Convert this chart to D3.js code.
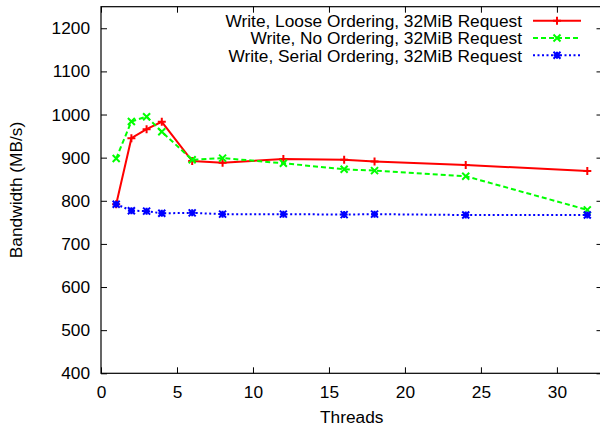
<!DOCTYPE html>
<html>
<head>
<meta charset="utf-8">
<script src="https://cdn.jsdelivr.net/npm/d3@7"></script>
<style>
  body { margin: 0; background: #fff; }
  svg text { font-family: "Liberation Sans", Arial, sans-serif; fill: #000; }
</style>
</head>
<body>
<div id="chart"></div>
<script>
// chart data
const threads = [1, 2, 3, 4, 6, 8, 12, 16, 18, 24, 32];
const looseVals = [792, 945, 966, 983, 892, 888, 897, 895, 891, 883, 869];
const noneVals = [898, 984, 995, 960, 895, 899, 887, 873, 870, 857, 779];
const serialVals = [792, 777, 776, 771, 772, 769, 769, 768, 769, 767, 767];
const seriesNames = [
  "Write, Loose Ordering, 32MiB Request",
  "Write, No Ordering, 32MiB Request",
  "Write, Serial Ordering, 32MiB Request"
];
const xTicks = [0, 5, 10, 15, 20, 25, 30];
const yTicks = [400, 500, 600, 700, 800, 900, 1000, 1100, 1200];

const WIDTH = 600, HEIGHT = 430;
const PLOT = {left: 101, right: 602.5, top: 6.7, bottom: 373.3};
const FONT = "17.3px";

const svg = d3.select("#chart").append("svg")
  .attr("width", WIDTH).attr("height", HEIGHT);

const x = d3.scaleLinear().domain([0, 33]).range([PLOT.left, PLOT.right]);
const y = d3.scaleLinear().domain([400, 1250]).range([PLOT.bottom, PLOT.top]);

// border frame
svg.append("rect")
  .attr("x", PLOT.left).attr("y", PLOT.top)
  .attr("width", PLOT.right - PLOT.left).attr("height", PLOT.bottom - PLOT.top)
  .attr("fill", "none").attr("stroke", "#000").attr("stroke-width", 1.2);

// axes (ticks inward, mirrored on top/right)
const bottomAxis = svg.append("g")
  .attr("transform", `translate(0,${PLOT.bottom})`)
  .call(d3.axisBottom(x).tickValues(xTicks).tickSizeInner(-6).tickSizeOuter(0).tickPadding(12).tickFormat(d3.format("d")));
const topAxis = svg.append("g")
  .attr("transform", `translate(0,${PLOT.top})`)
  .call(d3.axisTop(x).tickValues(xTicks).tickSizeInner(-6).tickSizeOuter(0).tickFormat(""));
const leftAxis = svg.append("g")
  .attr("transform", `translate(${PLOT.left},0)`)
  .call(d3.axisLeft(y).tickValues(yTicks).tickSizeInner(-6).tickSizeOuter(0).tickPadding(11).tickFormat(d3.format("d")));
const rightAxis = svg.append("g")
  .attr("transform", `translate(${PLOT.right},0)`)
  .call(d3.axisRight(y).tickValues(yTicks).tickSizeInner(-6).tickSizeOuter(0).tickFormat(""));

[bottomAxis, topAxis, leftAxis, rightAxis].forEach(a => {
  a.select(".domain").remove();
  a.selectAll("line").attr("stroke", "#000").attr("stroke-width", 1);
  a.selectAll("text").style("font-size", FONT).attr("font-family", null);
});

// axis labels
svg.append("text")
  .attr("x", (PLOT.left + PLOT.right) / 2).attr("y", 423)
  .attr("text-anchor", "middle").style("font-size", FONT)
  .text("Threads");
svg.append("text")
  .attr("transform", `translate(22,${(PLOT.top + PLOT.bottom) / 2}) rotate(-90)`)
  .attr("text-anchor", "middle").style("font-size", FONT)
  .text("Bandwidth (MB/s)");

// markers
function plusPath(s) { return `M${-s},0H${s}M0,${-s}V${s}`; }
function crossPath(s) { return `M${-s},${-s}L${s},${s}M${-s},${s}L${s},${-s}`; }
function starPath(s) { return plusPath(s) + crossPath(s); }

const series = [
  {name: seriesNames[0], values: looseVals, color: "#ff0000", dash: null, marker: plusPath, ms: 4},
  {name: seriesNames[1], values: noneVals, color: "#00ff00", dash: "5,3", marker: crossPath, ms: 3.5},
  {name: seriesNames[2], values: serialVals, color: "#0000ff", dash: "2,2.5", marker: starPath, ms: 3.5}
];

const line = d3.line().x(d => x(d[0])).y(d => y(d[1]));

series.forEach(s => {
  const pts = threads.map((t, i) => [t, s.values[i]]);
  const g = svg.append("g");
  g.append("path")
    .attr("d", line(pts))
    .attr("fill", "none").attr("stroke", s.color).attr("stroke-width", 2)
    .attr("stroke-dasharray", s.dash);
  g.selectAll("path.mk").data(pts).join("path")
    .attr("class", "mk")
    .attr("transform", d => `translate(${x(d[0])},${y(d[1])})`)
    .attr("d", s.marker(s.ms))
    .attr("fill", "none").attr("stroke", s.color).attr("stroke-width", 2);
});

// legend
const legend = svg.append("g");
series.forEach((s, i) => {
  const ly = 20.7 + i * 17.3;
  legend.append("text")
    .attr("x", 522).attr("y", ly).attr("dy", "0.36em")
    .attr("text-anchor", "end").style("font-size", FONT)
    .text(s.name);
  legend.append("line")
    .attr("x1", 533).attr("x2", 581).attr("y1", ly).attr("y2", ly)
    .attr("stroke", s.color).attr("stroke-width", 2).attr("stroke-dasharray", s.dash);
  legend.append("path")
    .attr("transform", `translate(557,${ly})`)
    .attr("d", s.marker(s.ms))
    .attr("fill", "none").attr("stroke", s.color).attr("stroke-width", 2);
});
</script>
</body>
</html>
